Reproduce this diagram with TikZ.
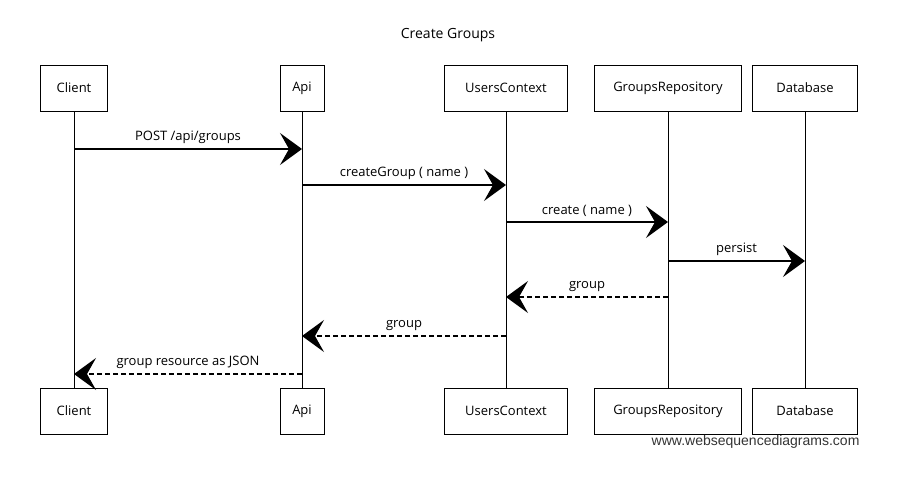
\documentclass[tikz,border=0pt]{standalone}
\usepackage{fontspec}
\setmainfont{Open Sans}
\newfontfamily\footfont{Liberation Sans}
\usetikzlibrary{arrows.meta}
\tikzset{
  actor/.style={draw, line width=0.9pt, minimum height=46pt, inner sep=0pt, font=\fontsize{13}{15}\selectfont},
  life/.style={line width=0.8pt},
  msg/.style={line width=1.2pt, -{Stealth[length=22pt, width=32pt, inset=9pt]}},
  ret/.style={msg, dashed, dash pattern=on 5pt off 3pt},
  lbl/.style={above, font=\fontsize{13}{15}\selectfont, inner sep=5pt}
}
\begin{document}
\begin{tikzpicture}[x=1pt, y=-1pt]
\useasboundingbox (0,0) rectangle (897,489);
\node[font=\fontsize{14}{16}\selectfont] (title) at (448,35) {Create Groups};
% top boxes
\node[actor, minimum width=67pt] (cl) at (74,88) {Client};
\node[actor, minimum width=44pt] (api) at (302,88) {Api};
\node[actor, minimum width=123pt] (uc) at (506,88) {UsersContext};
\node[actor, minimum width=147pt] (gr) at (668,88) {GroupsRepository};
\node[actor, minimum width=105pt] (db) at (805,88) {Database};
% bottom boxes
\node[actor, minimum width=67pt] (cl2) at (74,411) {Client};
\node[actor, minimum width=44pt] (api2) at (302,411) {Api};
\node[actor, minimum width=123pt] (uc2) at (506,411) {UsersContext};
\node[actor, minimum width=147pt] (gr2) at (668,411) {GroupsRepository};
\node[actor, minimum width=105pt] (db2) at (805,411) {Database};
% lifelines
\draw[life] (cl) -- (cl2);
\draw[life] (api) -- (api2);
\draw[life] (uc) -- (uc2);
\draw[life] (gr) -- (gr2);
\draw[life] (db) -- (db2);
% messages
\draw[msg] (cl.south |- 0,149) -- node[lbl] {POST /api/groups} (api.south |- 0,149);
\draw[msg] (api.south |- 0,185) -- node[lbl] {createGroup ( name )} (uc.south |- 0,185);
\draw[msg] (uc.south |- 0,222) -- node[lbl] {create ( name )} (gr.south |- 0,222);
\draw[msg] (gr.south |- 0,261) -- node[lbl] {persist} (db.south |- 0,261);
\draw[ret] (gr.south |- 0,297) -- node[lbl] {group} (uc.south |- 0,297);
\draw[ret] (uc.south |- 0,336) -- node[lbl] {group} (api.south |- 0,336);
\draw[ret] (api.south |- 0,374) -- node[lbl] {group resource as JSON} (cl.south |- 0,374);
\node[font=\footfont\fontsize{14}{16}\selectfont, text=black!80, anchor=east] (foot) at (863,442) {www.websequencediagrams.com};
\end{tikzpicture}
\end{document}
